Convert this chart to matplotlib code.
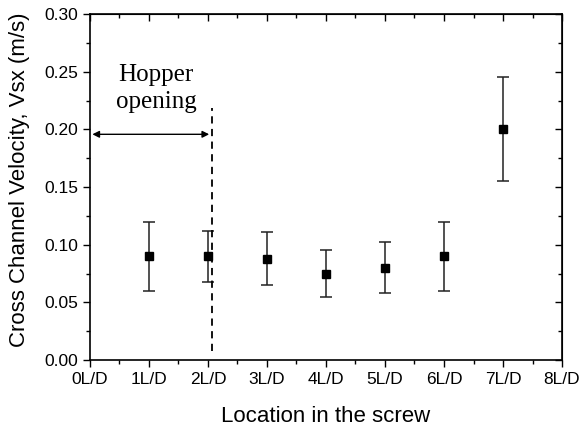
import matplotlib
matplotlib.use("Agg")
import matplotlib.pyplot as plt
from matplotlib.ticker import MultipleLocator

# Cross channel velocity along the screw
location = [1, 2, 3, 4, 5, 6, 7]
velocity = [0.090, 0.090, 0.088, 0.075, 0.080, 0.090, 0.200]
err_low = [0.030, 0.022, 0.023, 0.020, 0.022, 0.030, 0.045]
err_high = [0.030, 0.022, 0.023, 0.020, 0.022, 0.030, 0.045]
xtick_labels = ["0L/D", "1L/D", "2L/D", "3L/D", "4L/D", "5L/D", "6L/D", "7L/D", "8L/D"]
hopper_end = 2.06

sans = ["Liberation Sans", "DejaVu Sans"]
serif = ["Liberation Serif", "DejaVu Serif"]

fig = plt.figure(figsize=(5.81, 4.30), dpi=100)
ax = fig.add_axes([0.1549, 0.1628, 0.8124, 0.8046])

ax.errorbar(location, velocity, yerr=[err_low, err_high], fmt="s", color="black",
            markersize=5.5, capsize=4.5, elinewidth=1.1, capthick=1.1, ecolor="#222222")

# Hopper opening marker
ax.plot([hopper_end, hopper_end], [0.008, 0.2185], linestyle=(0, (4, 3)), color="black", linewidth=1.3)
ax.annotate("", xy=(0.04, 0.1957), xytext=(2.02, 0.1957),
            arrowprops=dict(arrowstyle="<|-|>", color="black", lw=1.0,
                            mutation_scale=10, shrinkA=0, shrinkB=0))
ax.text(1.12, 0.2355, "Hopper\nopening", ha="center", va="center",
        fontsize=18, family=serif, linespacing=1.25)

ax.set_xlim(0, 8)
ax.set_ylim(0, 0.30)
ax.set_xticks(range(9))
ax.set_xticklabels(xtick_labels, family=sans, fontsize=12.5)
ax.set_yticks([0, 0.05, 0.10, 0.15, 0.20, 0.25, 0.30])
ax.set_yticklabels(["0.00", "0.05", "0.10", "0.15", "0.20", "0.25", "0.30"], family=sans, fontsize=12.5)
ax.xaxis.set_minor_locator(MultipleLocator(0.5))
ax.yaxis.set_minor_locator(MultipleLocator(0.025))

ax.tick_params(which="major", length=5, width=1.0, direction="out")
ax.tick_params(which="minor", length=3, width=1.0, direction="out")
for side in ax.spines.values():
    side.set_linewidth(1.2)

# top and right ticks point inward
sec_x = ax.secondary_xaxis("top")
sec_x.set_xticks(range(9))
sec_x.xaxis.set_minor_locator(MultipleLocator(0.5))
sec_x.tick_params(which="both", direction="in", labeltop=False, width=1.0)
sec_x.tick_params(which="major", length=5)
sec_x.tick_params(which="minor", length=3)
sec_y = ax.secondary_yaxis("right")
sec_y.set_yticks([0, 0.05, 0.10, 0.15, 0.20, 0.25, 0.30])
sec_y.yaxis.set_minor_locator(MultipleLocator(0.025))
sec_y.tick_params(which="both", direction="in", labelright=False, width=1.0)
sec_y.tick_params(which="major", length=5)
sec_y.tick_params(which="minor", length=3)

ax.set_xlabel("Location in the screw", family=sans, fontsize=16, labelpad=14)
ax.set_ylabel("Cross Channel Velocity, Vsx (m/s)", family=sans, fontsize=16)
ax.yaxis.set_label_coords(-0.128, 0.52)

fig.savefig("out.png", dpi=100)
